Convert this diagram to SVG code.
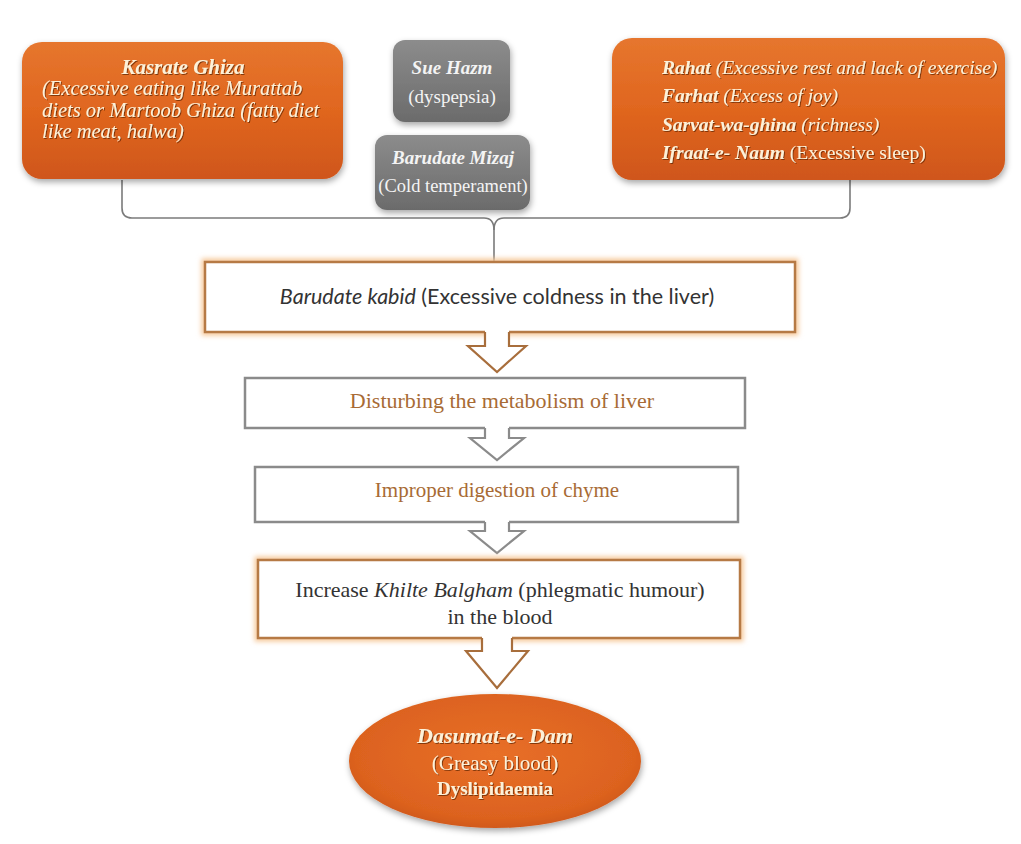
<svg xmlns="http://www.w3.org/2000/svg" width="1021" height="844" viewBox="0 0 1021 844">
<defs>
<linearGradient id="og" x1="0" y1="0" x2="0" y2="1">
<stop offset="0" stop-color="#e6762e"/>
<stop offset="0.5" stop-color="#e0661f"/>
<stop offset="1" stop-color="#cf561a"/>
</linearGradient>
<radialGradient id="eg" cx="0.5" cy="0.45" r="0.6">
<stop offset="0" stop-color="#e86f28"/>
<stop offset="0.8" stop-color="#dc621f"/>
<stop offset="1" stop-color="#c9531a"/>
</radialGradient>
<linearGradient id="gg" x1="0" y1="0" x2="0" y2="1">
<stop offset="0" stop-color="#8c8c8c"/>
<stop offset="1" stop-color="#6b6b6b"/>
</linearGradient>
<filter id="sh" x="-10%" y="-10%" width="120%" height="130%">
<feDropShadow dx="1" dy="3" stdDeviation="3" flood-color="#000" flood-opacity="0.35"/>
</filter>
<filter id="ts" x="-5%" y="-20%" width="110%" height="140%">
<feDropShadow dx="1" dy="1" stdDeviation="0.6" flood-color="#5a2200" flood-opacity="0.7"/>
</filter>
<filter id="glow" x="-5%" y="-20%" width="110%" height="140%">
<feGaussianBlur stdDeviation="2.5"/>
</filter>
</defs>
<style>
.serif{font-family:"Liberation Serif","Times New Roman",serif;}
.cream{fill:#fdf1d8;}
.wt{fill:#f4f4f4;}
.bi{font-weight:bold;font-style:italic;}
.it{font-style:italic;}
.bx-o{fill:#ffffff;stroke:#b67a45;stroke-width:2.5;}
.bx-g{fill:#ffffff;stroke:#8b8b8b;stroke-width:2.5;}
.glow-o{fill:none;stroke:#f6c898;stroke-width:7;}
.conn{fill:none;stroke:#7b7b7b;stroke-width:1.6;}
.arr-o{fill:none;stroke:#a86e3c;stroke-width:2.2;stroke-linejoin:miter;}
.arr-g{fill:none;stroke:#8b8b8b;stroke-width:2.2;stroke-linejoin:miter;}
.cover{fill:#ffffff;stroke:none;}
.brown{fill:#a86b35;}
.dark{fill:#333333;}
</style>
<rect width="1021" height="844" fill="#ffffff"/>

<g id="connectors">
<path class="conn" d="M122,180 V208 Q122,218 132,218 H484 Q494,218 494,230 V262"/>
<path class="conn" d="M850,180 V208 Q850,218 840,218 H504 Q494,218 494,230"/>
</g>

<g id="kasrate-ghiza">
<rect x="22" y="42" width="321" height="137" rx="20" fill="url(#og)" filter="url(#sh)"/>
<g class="serif cream" filter="url(#ts)">
<text x="183" y="74" text-anchor="middle" class="bi" font-size="21">Kasrate Ghiza</text>
<text x="42" y="95" class="it" font-size="20.5">(Excessive eating like Murattab</text>
<text x="42" y="117" class="it" font-size="20.5">diets or Martoob Ghiza (fatty diet</text>
<text x="42" y="138" class="it" font-size="20.5">like meat, halwa)</text>
</g>
</g>

<g id="sue-hazm">
<rect x="393" y="40" width="117" height="82" rx="12" fill="url(#gg)" filter="url(#sh)"/>
<g class="serif wt">
<text x="452" y="74" text-anchor="middle" class="bi" font-size="19">Sue Hazm</text>
<text x="452" y="103" text-anchor="middle" font-size="19">(dyspepsia)</text>
</g>
</g>

<g id="barudate-mizaj">
<rect x="375" y="135" width="155" height="75" rx="12" fill="url(#gg)" filter="url(#sh)"/>
<g class="serif wt">
<text x="453" y="164" text-anchor="middle" class="bi" font-size="19">Barudate Mizaj</text>
<text x="453" y="192" text-anchor="middle" font-size="18.5">(Cold temperament)</text>
</g>
</g>

<g id="rahat">
<rect x="612" y="38" width="393" height="142" rx="20" fill="url(#og)" filter="url(#sh)"/>
<g class="serif cream" filter="url(#ts)" font-size="19.5">
<text x="662" y="74"><tspan class="bi">Rahat</tspan><tspan class="it"> (Excessive rest and lack of exercise)</tspan></text>
<text x="662" y="102"><tspan class="bi">Farhat</tspan><tspan class="it"> (Excess of joy)</tspan></text>
<text x="662" y="131"><tspan class="bi">Sarvat-wa-ghina</tspan><tspan class="it"> (richness)</tspan></text>
<text x="662" y="159"><tspan class="bi">Ifraat-e- Naum</tspan><tspan> (Excessive sleep)</tspan></text>
</g>
</g>

<g id="barudate-kabid">
<rect class="glow-o" x="205" y="262" width="590" height="70" filter="url(#glow)"/>
<rect class="bx-o" x="205" y="262" width="590" height="70"/>
<text x="497" y="304" text-anchor="middle" font-family="Lato,'Liberation Sans',sans-serif" font-size="21.5" class="dark"><tspan font-style="italic">Barudate kabid</tspan> (Excessive coldness in the liver)</text>
</g>

<g id="arrow1">
<path class="cover" d="M485,330 V346 H468 L497,372 L526,346 H509 V330 Z"/>
<path class="arr-o" d="M485,332 V346 H468 L497,372 L526,346 H509 V332"/>
</g>

<g id="disturbing">
<rect class="bx-g" x="245" y="378" width="500" height="50"/>
<text x="502" y="408" text-anchor="middle" class="serif brown" font-size="22">Disturbing the metabolism of liver</text>
</g>

<g id="arrow2">
<path class="cover" d="M485,426 V438 H470 L497,460 L524,438 H509 V426 Z"/>
<path class="arr-g" d="M485,428 V438 H470 L497,460 L524,438 H509 V428"/>
</g>

<g id="improper">
<rect class="bx-g" x="255" y="467" width="483" height="55"/>
<text x="497" y="497" text-anchor="middle" class="serif brown" font-size="21">Improper digestion of chyme</text>
</g>

<g id="arrow3">
<path class="cover" d="M485,520 V531 H470 L497,553 L524,531 H509 V520 Z"/>
<path class="arr-g" d="M485,522 V531 H470 L497,553 L524,531 H509 V522"/>
</g>

<g id="increase">
<rect class="glow-o" x="258" y="560" width="482" height="78" filter="url(#glow)"/>
<rect class="bx-o" x="258" y="560" width="482" height="78"/>
<g class="serif dark" font-size="22">
<text x="500" y="597" text-anchor="middle">Increase <tspan font-style="italic">Khilte Balgham</tspan> (phlegmatic humour)</text>
<text x="500" y="624" text-anchor="middle">in the blood</text>
</g>
</g>

<g id="arrow4">
<path class="cover" d="M482,636 V651 H466 L497,688 L528,651 H512 V636 Z"/>
<path class="arr-o" d="M482,638 V651 H466 L497,688 L528,651 H512 V638"/>
</g>

<g id="dasumat-e-dam">
<ellipse cx="495" cy="761" rx="146" ry="67" fill="url(#eg)" filter="url(#sh)"/>
<g class="serif cream" filter="url(#ts)" text-anchor="middle">
<text x="495" y="743" class="bi" font-size="22">Dasumat-e- Dam</text>
<text x="495" y="770" font-size="21">(Greasy blood)</text>
<text x="495" y="795" font-weight="bold" font-size="19">Dyslipidaemia</text>
</g>
</g>
</svg>
